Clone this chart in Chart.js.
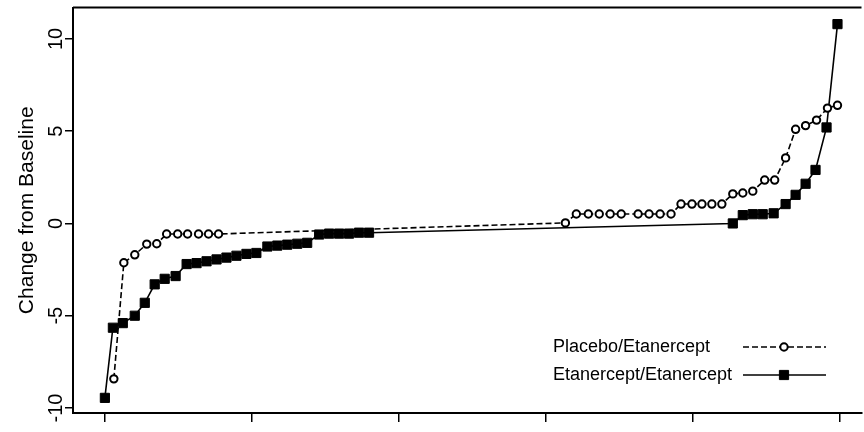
<!DOCTYPE html>
<html>
<head>
<meta charset="utf-8">
<script src="https://cdn.jsdelivr.net/npm/chart.js@4/dist/chart.umd.min.js"></script>
<style>
  html, body { margin: 0; padding: 0; background: #fff; overflow: hidden; }
  /* a little wider than the window so the frame runs off the right edge, as in the scan */
  #wrap { width: 869px; height: 432px; }
</style>
</head>
<body>
<div id="wrap"><canvas id="rankChart"></canvas></div>
<script>
// percentile rank (x) and change from baseline (y)
const placeboX = [1.22, 2.58, 4.07, 5.70, 7.06, 8.41, 9.91, 11.26, 12.75, 14.11, 15.47,
  62.69, 64.18, 65.81, 67.30, 68.79, 70.29, 72.59, 74.08, 75.58, 77.07,
  78.43, 79.92, 81.28, 82.63, 83.99, 85.48, 86.84, 88.20, 89.82, 91.18,
  92.67, 94.03, 95.39, 96.88, 98.37, 99.73];
const placeboY = [-8.42, -2.13, -1.7, -1.12, -1.1, -0.57, -0.57, -0.57, -0.57, -0.57, -0.57,
  0.03, 0.51, 0.51, 0.51, 0.51, 0.51, 0.51, 0.51, 0.51, 0.51,
  1.05, 1.05, 1.05, 1.05, 1.05, 1.6, 1.65, 1.75, 2.35, 2.35,
  3.55, 5.1, 5.3, 5.6, 6.25, 6.4];

const etanX = [0.0, 1.09, 2.44, 4.07, 5.43, 6.78, 8.14, 9.63, 11.13, 12.48, 13.84, 15.20,
  16.55, 17.91, 19.27, 20.62, 22.12, 23.47, 24.83, 26.19, 27.54, 29.17, 30.53,
  31.89, 33.24, 34.60, 35.96, 85.48, 86.84, 88.20, 89.55, 91.04, 92.67, 94.03,
  95.39, 96.74, 98.24, 99.73];
const etanY = [-9.45, -5.65, -5.4, -5.0, -4.3, -3.3, -3.0, -2.85, -2.2, -2.15, -2.05, -1.95,
  -1.85, -1.75, -1.65, -1.6, -1.25, -1.2, -1.15, -1.1, -1.05, -0.6, -0.55,
  -0.55, -0.55, -0.5, -0.5, 0.0, 0.45, 0.5, 0.5, 0.55, 1.05, 1.55,
  2.15, 2.9, 5.2, 10.8];

const yTicks = [-10, -5, 0, 5, 10];
const xTicks = [0, 20, 40, 60, 80, 100];
const seriesNames = ["Placebo/Etanercept", "Etanercept/Etanercept"];

const FONT = "'Liberation Sans', Arial, Helvetica, sans-serif";

function toPoints(xs, ys) {
  return xs.map((x, i) => ({ x: x, y: ys[i] }));
}

// top frame line (no right edge in the picture)
const topFrame = {
  id: "topFrame",
  afterDraw(chart) {
    const { ctx, chartArea } = chart;
    ctx.save();
    ctx.strokeStyle = "#000";
    ctx.lineWidth = 2;
    ctx.beginPath();
    ctx.moveTo(chartArea.left, chartArea.top);
    ctx.lineTo(chartArea.right, chartArea.top);
    ctx.stroke();
    ctx.restore();
  }
};

// legend: text first, then the line sample with its marker
const sideLegend = {
  id: "sideLegend",
  afterDraw(chart) {
    const ctx = chart.ctx;
    const rows = [347, 375];
    chart.data.datasets.forEach((ds, i) => {
      const y = rows[i];
      ctx.save();
      ctx.fillStyle = "#000";
      ctx.font = "18px " + FONT;
      ctx.textBaseline = "middle";
      ctx.textAlign = "left";
      ctx.fillText(ds.label, 553, y);

      ctx.strokeStyle = ds.borderColor;
      ctx.lineWidth = ds.borderWidth;
      ctx.setLineDash(ds.borderDash || []);
      ctx.beginPath();
      ctx.moveTo(743, y);
      ctx.lineTo(826, y);
      ctx.stroke();
      ctx.setLineDash([]);

      ctx.fillStyle = ds.pointBackgroundColor;
      ctx.strokeStyle = ds.pointBorderColor;
      ctx.lineWidth = ds.pointBorderWidth;
      Chart.helpers.drawPoint(ctx, {
        pointStyle: ds.pointStyle,
        radius: ds.pointRadius,
        borderWidth: ds.pointBorderWidth,
        rotation: 0
      }, 784, y);
      ctx.restore();
    });
  }
};

const ctx = document.getElementById("rankChart");
new Chart(ctx, {
  type: "line",
  data: {
    datasets: [
      {
        label: seriesNames[0],
        data: toPoints(placeboX, placeboY),
        borderColor: "#000",
        borderWidth: 1.6,
        borderDash: [6, 3],
        pointStyle: "circle",
        pointRadius: 3.7,
        pointBorderWidth: 2,
        pointBackgroundColor: "#fff",
        pointBorderColor: "#000",
        tension: 0
      },
      {
        label: seriesNames[1],
        data: toPoints(etanX, etanY),
        borderColor: "#000",
        borderWidth: 1.6,
        pointStyle: "rect",
        pointRadius: 6.5,
        pointBorderWidth: 1,
        pointBackgroundColor: "#000",
        pointBorderColor: "#000",
        tension: 0
      }
    ]
  },
  options: {
    responsive: true,
    maintainAspectRatio: false,
    animation: false,
    layout: { padding: { top: 2, right: 0, left: 0, bottom: 0 } },
    plugins: {
      legend: { display: false },
      tooltip: { enabled: false }
    },
    scales: {
      x: {
        type: "linear",
        min: -4.34,
        max: 103.0,
        afterBuildTicks: s => { s.ticks = xTicks.map(v => ({ value: v })); },
        afterFit: s => { s.height = 19; },
        ticks: { display: false },
        grid: { drawOnChartArea: false, drawTicks: true, tickLength: 9, color: "#000", lineWidth: 1.5 },
        border: { display: true, color: "#000", width: 2 }
      },
      y: {
        min: -10.27,
        max: 11.7,
        afterBuildTicks: s => { s.ticks = yTicks.map(v => ({ value: v })); },
        afterFit: s => { s.width = 73; },
        ticks: {
          minRotation: 90,
          maxRotation: 90,
          crossAlign: "center",
          padding: -6,
          color: "#000",
          font: { family: FONT, size: 20 }
        },
        grid: { drawOnChartArea: false, drawTicks: true, tickLength: 8, color: "#000", lineWidth: 1.5 },
        border: { display: true, color: "#000", width: 2 },
        title: {
          display: true,
          text: "Change from Baseline",
          color: "#000",
          font: { family: FONT, size: 21 },
          padding: { top: 15, bottom: 0 }
        }
      }
    }
  },
  plugins: [topFrame, sideLegend]
});
</script>
</body>
</html>
